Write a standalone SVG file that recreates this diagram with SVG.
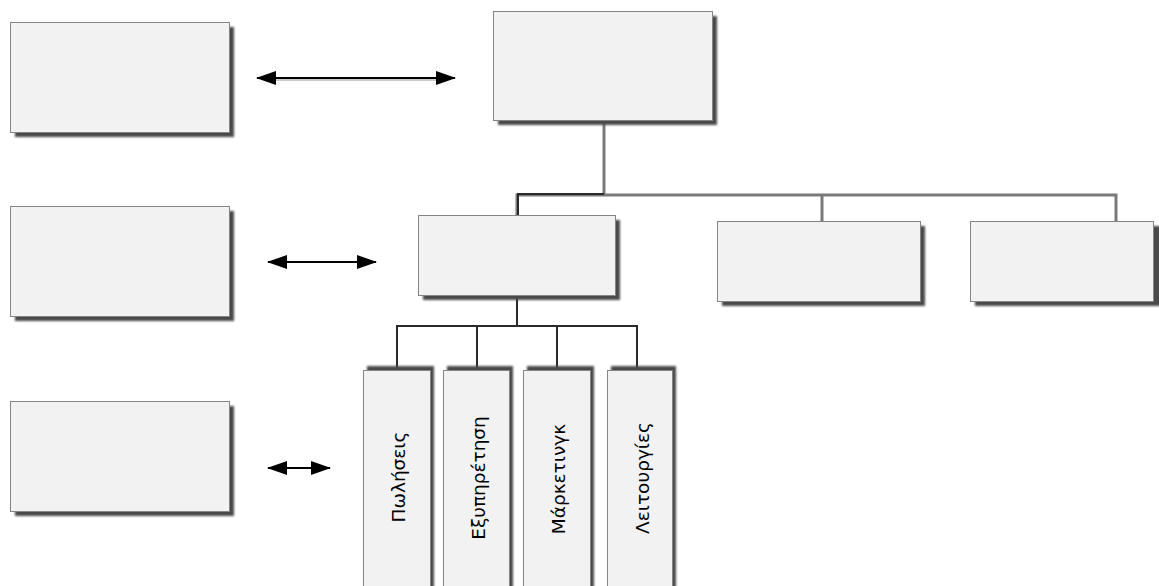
<svg xmlns="http://www.w3.org/2000/svg" width="1159" height="586" viewBox="0 0 1159 586">
<defs>
<filter id="blur" x="-10%" y="-10%" width="120%" height="120%"><feGaussianBlur stdDeviation="0.8"/></filter>
<marker id="ah" viewBox="0 0 20 14" refX="19" refY="7" markerWidth="20" markerHeight="14" markerUnits="userSpaceOnUse" orient="auto-start-reverse">
<path d="M0,0 L20,7 L0,14 Z" fill="#000"/>
</marker>
</defs>
<style>
.box{fill:#f2f2f2;stroke:#858585;stroke-width:1}
.sh{fill:#484848;filter:url(#blur)}
.ln{fill:none;stroke:#7a7a7a;stroke-width:3}
.lk{fill:none;stroke:#2a2a2a;stroke-width:2}
.ar{stroke:#000;stroke-width:2;marker-start:url(#ah);marker-end:url(#ah)}
.ar2{stroke:#999;stroke-width:1}
.lbl{font-family:"DejaVu Sans",sans-serif;font-size:18.5px;fill:#000;text-anchor:middle;dominant-baseline:central}
</style>
<rect width="1159" height="586" fill="#fff"/>

<g id="connectors">
<line class="ln" x1="604" y1="120" x2="604" y2="195"/>
<polyline class="ln" points="517,215 517,195 1116,195 1116,221"/>
<line class="ln" x1="822" y1="195" x2="822" y2="221"/>
<polyline class="lk" points="518,215 518,194 604,194"/>
<line class="lk" x1="517" y1="295" x2="517" y2="326"/>
<polyline class="lk" points="397,368 397,326 637,326 637,368"/>
<line class="lk" x1="477" y1="326" x2="477" y2="368"/>
<line class="lk" x1="557" y1="326" x2="557" y2="368"/>
<line class="ar2" x1="270" y1="80" x2="440" y2="80"/>
<line class="ar" x1="257" y1="78" x2="455" y2="78"/>
<line class="ar" x1="268" y1="262" x2="376" y2="262"/>
<line class="ar" x1="268" y1="468" x2="330" y2="468"/>
</g>

<g id="node-left1"><rect class="sh" x="15" y="27" width="219" height="110"/><rect class="box" x="10.5" y="22.5" width="219" height="110"/></g>
<g id="node-left2"><rect class="sh" x="15" y="211" width="219" height="110"/><rect class="box" x="10.5" y="206.5" width="219" height="110"/></g>
<g id="node-left3"><rect class="sh" x="15" y="406" width="219" height="110"/><rect class="box" x="10.5" y="401.5" width="219" height="110"/></g>
<g id="node-top"><rect class="sh" x="498" y="16" width="219" height="109"/><rect class="box" x="493.5" y="11.5" width="219" height="109"/></g>
<g id="node-mid"><rect class="sh" x="423" y="220" width="197" height="80"/><rect class="box" x="418.5" y="215.5" width="197" height="80"/></g>
<g id="node-right1"><rect class="sh" x="722" y="226" width="203" height="80"/><rect class="box" x="717.5" y="221.5" width="203" height="80"/></g>
<g id="node-right2"><rect class="sh" x="975" y="226" width="190" height="80"/><rect class="box" x="970.5" y="221.5" width="183" height="80"/></g>

<g id="node-sales"><rect class="sh" x="367" y="366" width="67" height="230"/><rect class="box" x="363.5" y="370.5" width="67" height="230"/><text class="lbl" transform="translate(398,477) rotate(-90)">Πωλήσεις</text></g>
<g id="node-service"><rect class="sh" x="447" y="366" width="66" height="230"/><rect class="box" x="443.5" y="370.5" width="66" height="230"/><text class="lbl" transform="translate(478,478) rotate(-90)">Εξυπηρέτηση</text></g>
<g id="node-marketing"><rect class="sh" x="527" y="366" width="67" height="230"/><rect class="box" x="523.5" y="370.5" width="67" height="230"/><text class="lbl" transform="translate(558,479) rotate(-90)">Μάρκετινγκ</text></g>
<g id="node-operations"><rect class="sh" x="611" y="366" width="65" height="230"/><rect class="box" x="607.5" y="370.5" width="65" height="230"/><text class="lbl" transform="translate(642,478) rotate(-90)">Λειτουργίες</text></g>
</svg>
